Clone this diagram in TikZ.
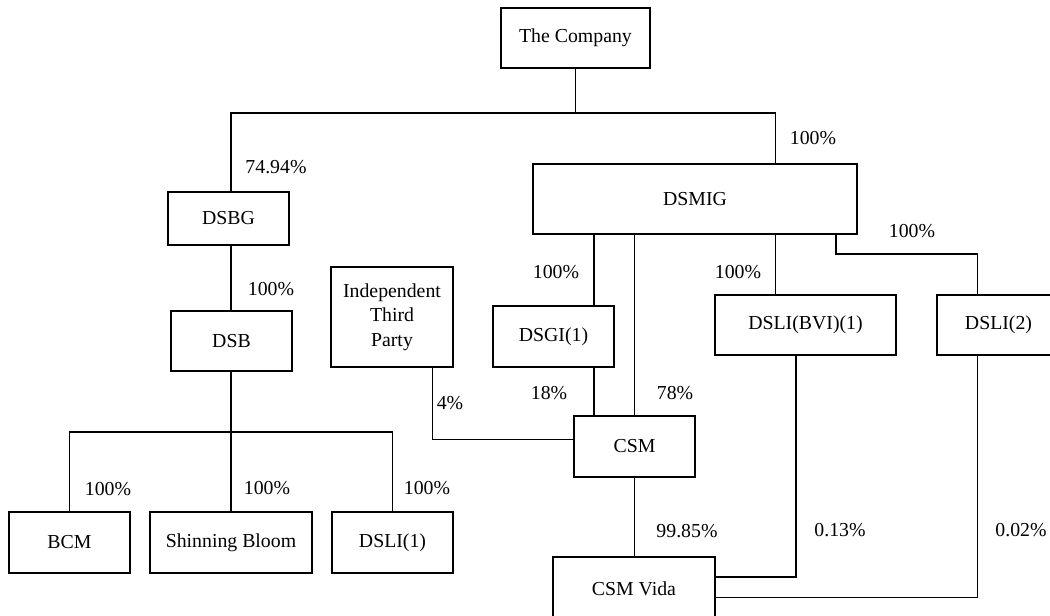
\documentclass[tikz,border=0pt]{standalone}
\usepackage{fontspec}
\setmainfont{Liberation Serif}
\begin{document}
\begin{tikzpicture}[x=1pt,y={(0pt,-1pt)},
  box/.style={draw,line width=1.4pt,inner sep=0pt,anchor=center,align=center,
    font=\fontsize{19.8}{24.5}\selectfont},
  pct/.style={inner sep=0pt,anchor=center,font=\fontsize{19.8}{24}\selectfont},
  conn/.style={line width=1.4pt}]
\useasboundingbox (0,0) rectangle (1050,616);
% boxes
\node[box,minimum width=149pt,minimum height=60pt] (comp) at (575.5,38) {The Company};
\node[box,minimum width=324pt,minimum height=70pt] (dsmig) at (695,199) {DSMIG};
\node[box,minimum width=121pt,minimum height=53pt] (dsbg) at (228.5,218.5) {DSBG};
\node[box,minimum width=121pt,minimum height=60pt] (dsb) at (231.5,341) {DSB};
\node[box,minimum width=122pt,minimum height=100pt] (itp) at (392,317) {Independent\\Third\\Party};
\node[box,minimum width=121pt,minimum height=61pt] (dsgi) at (553.5,336.5) {DSGI(1)};
\node[box,minimum width=181pt,minimum height=60pt] (dslibvi) at (805.5,325) {DSLI(BVI)(1)};
\node[box,minimum width=123pt,minimum height=60pt] (dsli2) at (998.5,325) {DSLI(2)};
\node[box,minimum width=121pt,minimum height=61pt] (csm) at (634.5,446.5) {CSM};
\node[box,minimum width=121pt,minimum height=61pt] (bcm) at (69.5,542.5) {BCM};
\node[box,minimum width=162pt,minimum height=61pt] (sb) at (231,542.5) {Shinning Bloom};
\node[box,minimum width=121pt,minimum height=61pt] (dsli1) at (392.5,542.5) {DSLI(1)};
\node[box,minimum width=162pt,minimum height=64pt] (vida) at (634,589) {CSM Vida};
% helper coordinates
\coordinate (xL) at (231,113);
\coordinate (xR) at (775.5,113);
\coordinate (hb) at (0,432);
\coordinate (xg) at (594,0);
\coordinate (xs1) at (836,254);
\coordinate (xs2) at (977.5,254);
\coordinate (xi) at (432.5,439.5);
\coordinate (cb) at (796,577);
\coordinate (cc) at (977.5,597.5);
% connectors
\draw[conn] (comp.south) -- (comp.south |- xL);
\draw[conn] (dsbg.north -| xL) -- (xL) -- (xR) -- (dsmig.north -| xR);
\draw[conn] (dsbg.south -| xL) -- (dsb.north -| xL);
\draw[conn] (dsb.south -| xL) -- (sb.north -| xL);
\draw[conn] (bcm.north) -- (bcm.north |- hb) -| (dsli1.north);
\draw[conn] (dsmig.south -| xg) -- (dsgi.north -| xg);
\draw[conn] (dsgi.south -| xg) -- (csm.north -| xg);
\draw[conn] (dsmig.south -| csm.north) -- (csm.north);
\draw[conn] (dsmig.south -| xR) -- (dslibvi.north -| xR);
\draw[conn] (dsmig.south -| xs1) -- (xs1) -- (xs2) -- (dsli2.north -| xs2);
\draw[conn] (itp.south -| xi) -- (xi) -- (csm.west |- xi);
\draw[conn] (csm.south) -- (vida.north -| csm.south);
\draw[conn] (dslibvi.south -| cb) -- (cb) -- (vida.east |- cb);
\draw[conn] (dsli2.south -| cc) -- (cc) -- (vida.east |- cc);
% labels
\node[pct] (p1) at (813,138) {100\%};
\node[pct] (p2) at (276,167) {74.94\%};
\node[pct] (p3) at (271,289) {100\%};
\node[pct] (p4) at (556,272) {100\%};
\node[pct] (p5) at (738,272) {100\%};
\node[pct] (p6) at (912,231) {100\%};
\node[pct] (p7) at (549,393) {18\%};
\node[pct] (p8) at (675,393) {78\%};
\node[pct] (p9) at (450,403) {4\%};
\node[pct] (p10) at (687,531) {99.85\%};
\node[pct] (p11) at (840,530) {0.13\%};
\node[pct] (p12) at (1021,530) {0.02\%};
\node[pct] (p13) at (108,489) {100\%};
\node[pct] (p14) at (267,488) {100\%};
\node[pct] (p15) at (427,488) {100\%};
\end{tikzpicture}
\end{document}
